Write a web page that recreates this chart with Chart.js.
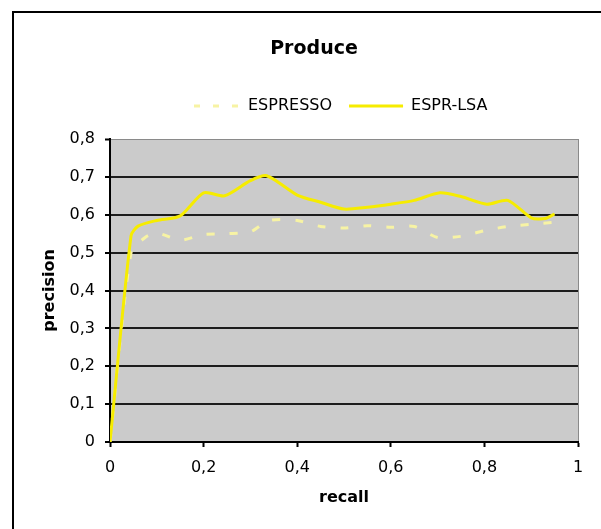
<!DOCTYPE html>
<html><head><meta charset="utf-8">
<script src="https://cdn.jsdelivr.net/npm/chart.js@4.4.1/dist/chart.umd.min.js"></script>
<style>html,body{margin:0;padding:0;background:#fff;overflow:hidden}canvas{display:block}</style>
</head><body>
<canvas id="c" width="601" height="529" style="width:601px;height:529px"></canvas>
<script>
// ---- data ----
const chartTitle = 'Produce';
const xAxisTitle = 'recall';
const yAxisTitle = 'precision';
const seriesNames = ['ESPRESSO', 'ESPR-LSA'];
const recallESPRESSO = [0, 0.045, 0.075, 0.1, 0.15, 0.2, 0.25, 0.3, 0.34, 0.4, 0.45, 0.5, 0.55, 0.6, 0.65, 0.7, 0.75, 0.8, 0.85, 0.9, 0.95];
const precisionESPRESSO = [0, 0.5, 0.54, 0.552, 0.533, 0.548, 0.55, 0.555, 0.585, 0.585, 0.569, 0.565, 0.571, 0.567, 0.569, 0.54, 0.543, 0.558, 0.569, 0.575, 0.58];
const recallLSA = [0, 0.045, 0.06, 0.1, 0.15, 0.2, 0.245, 0.3, 0.335, 0.4, 0.45, 0.5, 0.55, 0.6, 0.65, 0.705, 0.75, 0.805, 0.85, 0.9, 0.93, 0.95];
const precisionLSA = [0, 0.545, 0.57, 0.585, 0.597, 0.658, 0.65, 0.69, 0.703, 0.652, 0.633, 0.615, 0.62, 0.628, 0.638, 0.658, 0.648, 0.628, 0.638, 0.592, 0.59, 0.602];
const xTickValues = [0, 0.2, 0.4, 0.6, 0.8, 1];
const xTickLabels = ['0', '0,2', '0,4', '0,6', '0,8', '1'];
const yTickValues = [0, 0.1, 0.2, 0.3, 0.4, 0.5, 0.6, 0.7, 0.8];
const yTickLabels = ['0', '0,1', '0,2', '0,3', '0,4', '0,5', '0,6', '0,7', '0,8'];

// ---- styling ----
const FONT = 'DejaVu Sans';
const COLOR_ESP = '#f7f3a4';
const COLOR_LSA = '#f6ec00';
Chart.defaults.font.family = FONT;

const framePlugin = {
  id: 'frame',
  afterLayout(chart) {
    const t = chart.titleBlock;
    if (t) { t.left = 13; t.right = 615; t.width = 602; }
    const l = chart.legend;
    if (l) { const h = l.height; l.left = 169; l.right = 601; l.width = 432; l.top = 81; l.bottom = 81 + h; }
  },
  beforeDraw(chart) {
    const {ctx, chartArea: a} = chart;
    ctx.save();
    ctx.fillStyle = '#fff';
    ctx.fillRect(0, 0, chart.width, chart.height);
    ctx.strokeStyle = '#000';
    ctx.lineWidth = 2;
    ctx.strokeRect(13, 12, chart.width + 40, chart.height + 40);
    ctx.fillStyle = '#cbcbcb';
    ctx.fillRect(a.left, a.top, a.right - a.left, a.bottom - a.top);
    ctx.restore();
  }
};

const legendDash = [[6, 13], []];

new Chart(document.getElementById('c'), {
  type: 'line',
  data: {
    datasets: [
      {
        label: seriesNames[0],
        data: recallESPRESSO.map((x, i) => ({x: x, y: precisionESPRESSO[i]})),
        borderColor: COLOR_ESP, backgroundColor: COLOR_ESP,
        borderWidth: 3, borderDash: [8, 15], pointRadius: 0, tension: 0.25, fill: false, order: 1
      },
      {
        label: seriesNames[1],
        data: recallLSA.map((x, i) => ({x: x, y: precisionLSA[i]})),
        borderColor: COLOR_LSA, backgroundColor: COLOR_LSA,
        borderWidth: 3, pointRadius: 0, tension: 0.25, fill: false, order: 0
      }
    ]
  },
  options: {
    responsive: false,
    animation: false,
    devicePixelRatio: 1,
    layout: { padding: { left: 0, right: 23, top: 0, bottom: 0 } },
    plugins: {
      tooltip: { enabled: false },
      title: {
        display: true, text: chartTitle, color: '#000',
        font: { family: FONT, size: 19, weight: 'bold' },
        padding: { top: 38, bottom: 35.2 }
      },
      legend: {
        display: true, position: 'top', align: 'start',
        labels: {
          font: { family: FONT, size: 16 }, color: '#000',
          usePointStyle: true, pointStyleWidth: 54, padding: 17,
          generateLabels(chart) {
            return chart.data.datasets.map((ds, i) => ({
              text: ds.label, fillStyle: ds.borderColor, strokeStyle: ds.borderColor,
              lineWidth: 3, lineDash: legendDash[i], lineDashOffset: i === 0 ? 11 : 0,
              lineCap: 'butt', pointStyle: 'line', hidden: false, datasetIndex: i, fontColor: '#000'
            }));
          }
        }
      }
    },
    scales: {
      x: {
        type: 'linear', min: 0, max: 1,
        afterBuildTicks(s) { s.ticks = xTickValues.map(v => ({value: v})); },
        afterFit(s) { s.height = 87; },
        ticks: {
          callback: (v, i) => xTickLabels[i], color: '#000',
          font: { family: FONT, size: 16 }, padding: 11, maxRotation: 0, autoSkip: false
        },
        grid: {
          drawOnChartArea: true,
          color: c => (c.tick && Math.abs(c.tick.value - 1) < 1e-9) ? '#8a8a8a' : 'rgba(0,0,0,0)',
          lineWidth: 1, tickColor: '#000', tickLength: 5, tickWidth: 2
        },
        border: { color: '#000', width: 2 },
        title: {
          display: true, text: xAxisTitle, color: '#000',
          font: { family: FONT, size: 16, weight: 'bold' }, padding: { top: 0, bottom: 21.4 }
        }
      },
      y: {
        min: 0, max: 0.8,
        afterBuildTicks(s) { s.ticks = yTickValues.map(v => ({value: v})); },
        afterFit(s) { s.width = 110; },
        ticks: {
          callback: (v, i) => yTickLabels[i], color: '#000',
          font: { family: FONT, size: 16 }, padding: 10, autoSkip: false
        },
        grid: {
          color: c => (c.tick && Math.abs(c.tick.value - 0.8) < 1e-9) ? '#8a8a8a' : '#1c1c1c',
          lineWidth: c => (c.tick && Math.abs(c.tick.value - 0.8) < 1e-9) ? 1 : 2,
          tickColor: '#000', tickLength: 5, tickWidth: 2
        },
        border: { color: '#000', width: 2 },
        title: {
          display: true, text: yAxisTitle, color: '#000',
          font: { family: FONT, size: 16, weight: 'bold' }, padding: { top: 40, bottom: 0 }
        }
      }
    }
  },
  plugins: [framePlugin]
});
</script>
</body></html>
